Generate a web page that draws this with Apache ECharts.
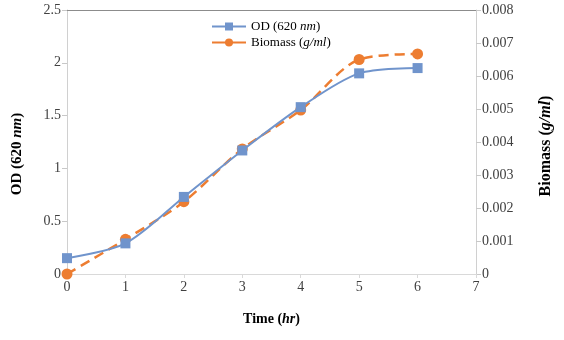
<!DOCTYPE html>
<html><head><meta charset="utf-8">
<script src="https://cdn.jsdelivr.net/npm/echarts@6/dist/echarts.min.js"></script>
<style>html,body{margin:0;padding:0;background:#fff}#c{width:564px;height:340px}</style>
</head><body><div id="c"></div>
<script>
var times = [0, 1, 2, 3, 4, 5, 6];
var odValues = [0.15, 0.29, 0.73, 1.17, 1.58, 1.90, 1.95];
var biomassValues = [0, 0.00105, 0.00219, 0.00379, 0.00497, 0.0065, 0.00667];
var odTicks = [0, 0.5, 1, 1.5, 2, 2.5];
var bioTicks = [0, 0.001, 0.002, 0.003, 0.004, 0.005, 0.006, 0.007, 0.008];

var FONT = 'Liberation Serif';
var BLUE = '#7094cc', ORANGE = '#ed7d31';
function titleRich(size) {
  return {
    b: {fontFamily: FONT, fontWeight: 'bold', fontSize: size, color: '#000'},
    bi: {fontFamily: FONT, fontWeight: 'bold', fontStyle: 'italic', fontSize: size, color: '#000'}
  };
}
var tickRich = {t: {fontFamily: FONT, fontSize: 14, color: '#404040'}};
function lbl(margin, fmt) {
  return {margin: margin, fontFamily: FONT, fontSize: 14, color: '#404040', rich: tickRich,
    formatter: function (v) { return '{t|' + fmt(v) + '}'; }};
}
var chart = echarts.init(document.getElementById('c'), null, {renderer: 'canvas'});
chart.setOption({
  animation: false,
  textStyle: {fontFamily: FONT},
  grid: {left: 67, right: 88, top: 10, bottom: 66, containLabel: false},
  legend: {
    orient: 'vertical', left: 206, top: 15, itemGap: 3, itemWidth: 34, itemHeight: 10,
    textStyle: {fontFamily: FONT, fontSize: 13, color: '#000',
      rich: {n: {fontFamily: FONT, fontSize: 13, color: '#000'}, i: {fontFamily: FONT, fontSize: 13, fontStyle: 'italic', color: '#000'}}},
    formatter: function (name) {
      return name === 'OD' ? '{n|OD (620 }{i|nm}{n|)}' : '{n|Biomass (}{i|g/ml}{n|)}';
    },
    data: [{name: 'OD'}, {name: 'Biomass', lineStyle: {type: 'solid'}}]
  },
  xAxis: [{
    type: 'value', min: 0, max: 7, interval: 1, position: 'bottom',
    axisLine: {onZero: false, lineStyle: {color: '#d9d9d9'}},
    axisTick: {show: true, length: 4, lineStyle: {color: '#d9d9d9'}},
    splitLine: {show: false},
    axisLabel: lbl(6, function (v) { return String(v); }),
    name: '{b|Time (}{bi|hr}{b|)}', nameLocation: 'middle', nameGap: 38,
    nameTextStyle: {rich: titleRich(14), padding: [0, 0, 0, 0]}
  }, {
    type: 'value', min: 0, max: 7, position: 'top',
    axisLine: {show: true, onZero: false, lineStyle: {color: '#8c8c8c'}},
    axisTick: {show: false}, axisLabel: {show: false}, splitLine: {show: false}
  }],
  yAxis: [{
    type: 'value', min: 0, max: 2.5, interval: 0.5, position: 'left',
    axisLine: {show: true, onZero: false, lineStyle: {color: '#d0d0d0'}},
    axisTick: {show: true, length: 5, lineStyle: {color: '#c8c8c8'}},
    splitLine: {show: false},
    axisLabel: lbl(6, function (v) { return String(v); }),
    name: '{b|OD (620 }{bi|nm}{b|)}', nameLocation: 'middle', nameGap: 42, nameRotate: 90,
    nameTextStyle: {rich: titleRich(15), padding: [0, 24, 0, 0]}
  }, {
    type: 'value', min: 0, max: 0.008, interval: 0.001, position: 'right',
    axisLine: {show: true, onZero: false, lineStyle: {color: '#d0d0d0'}},
    axisTick: {show: true, length: 5, lineStyle: {color: '#c8c8c8'}},
    splitLine: {show: false},
    axisLabel: lbl(6, function (v) { return v === 0 ? '0' : v.toFixed(3); }),
    name: '{b|Biomass (}{bi|g/ml}{b|)}', nameLocation: 'middle', nameGap: 62, nameRotate: 90,
    nameTextStyle: {rich: titleRich(16), padding: [0, 8, 0, 0]}
  }],
  series: [{
    name: 'OD', type: 'line', xAxisIndex: 0, yAxisIndex: 0, smooth: 0.3,
    data: times.map(function (t, i) { return [t, odValues[i]]; }),
    symbol: 'rect', symbolSize: 10,
    itemStyle: {color: BLUE}, lineStyle: {color: BLUE, width: 2}, z: 3
  }, {
    name: 'Biomass', type: 'line', xAxisIndex: 0, yAxisIndex: 1, smooth: 0.3,
    data: times.map(function (t, i) { return [t, biomassValues[i]]; }),
    symbol: 'circle', symbolSize: 11,
    itemStyle: {color: ORANGE}, lineStyle: {color: ORANGE, width: 2.5, type: [10, 6]}, z: 2
  }]
});
</script></body></html>
